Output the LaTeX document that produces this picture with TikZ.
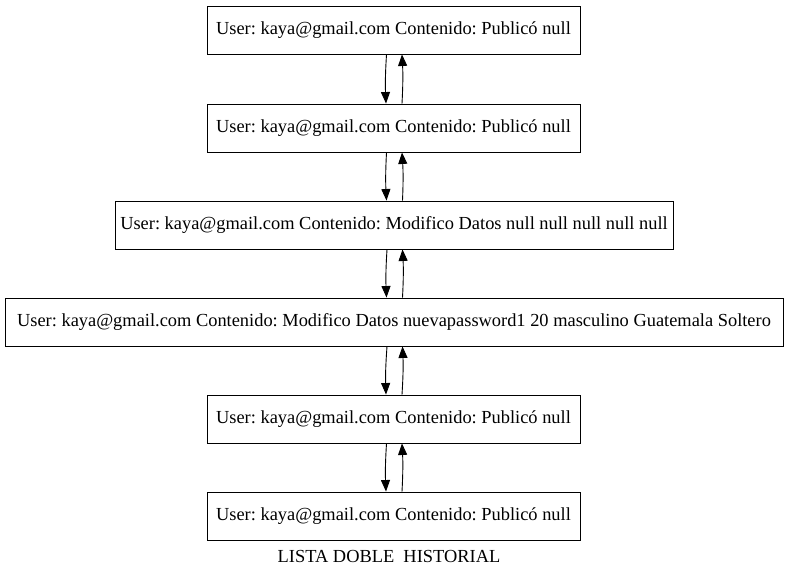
\documentclass[tikz,border=0pt]{standalone}
\usepackage{fontspec}
\setmainfont{Liberation Serif}
\usetikzlibrary{arrows.meta}
\begin{document}
\frenchspacing
\begin{tikzpicture}[x=1pt,y=-1pt,
  rec/.style={draw,line width=0.9pt,minimum height=48pt,inner sep=0pt,font=\fontsize{18.4pt}{21pt}\selectfont},
  lnk/.style={line width=0.9pt,-{Triangle[length=11.5pt,width=9pt]}}]
\useasboundingbox (0,0) rectangle (789,577);
\node[rec,minimum width=373pt] (n1) at (393.5,30) {User: kaya@gmail.com Contenido: Publicó null};
\node[rec,minimum width=373pt] (n2) at (393.5,128) {User: kaya@gmail.com Contenido: Publicó null};
\node[rec,minimum width=558pt] (n3) at (394,225) {User: kaya@gmail.com Contenido: Modifico Datos null null null null null};
\node[rec,minimum width=778pt] (n4) at (394,322) {User: kaya@gmail.com Contenido: Modifico Datos nuevapassword1 20 masculino Guatemala Soltero};
\node[rec,minimum width=373pt] (n5) at (393.5,419) {User: kaya@gmail.com Contenido: Publicó null};
\node[rec,minimum width=373pt] (n6) at (393.5,516) {User: kaya@gmail.com Contenido: Publicó null};
\node[font=\fontsize{18.4pt}{21pt}\selectfont,inner sep=0pt] (cap) at (389,556) {LISTA DOBLE\ \ HISTORIAL};
\foreach \a/\b in {n1/n2,n2/n3,n3/n4,n4/n5,n5/n6}{
  \draw[lnk] ([xshift=-7pt]\a.south) to[bend right=3] ([xshift=-7.5pt]\b.north);
  \draw[lnk] ([xshift=8.5pt]\b.north) to[bend right=3] ([xshift=8.5pt]\a.south);
}
\end{tikzpicture}
\end{document}
